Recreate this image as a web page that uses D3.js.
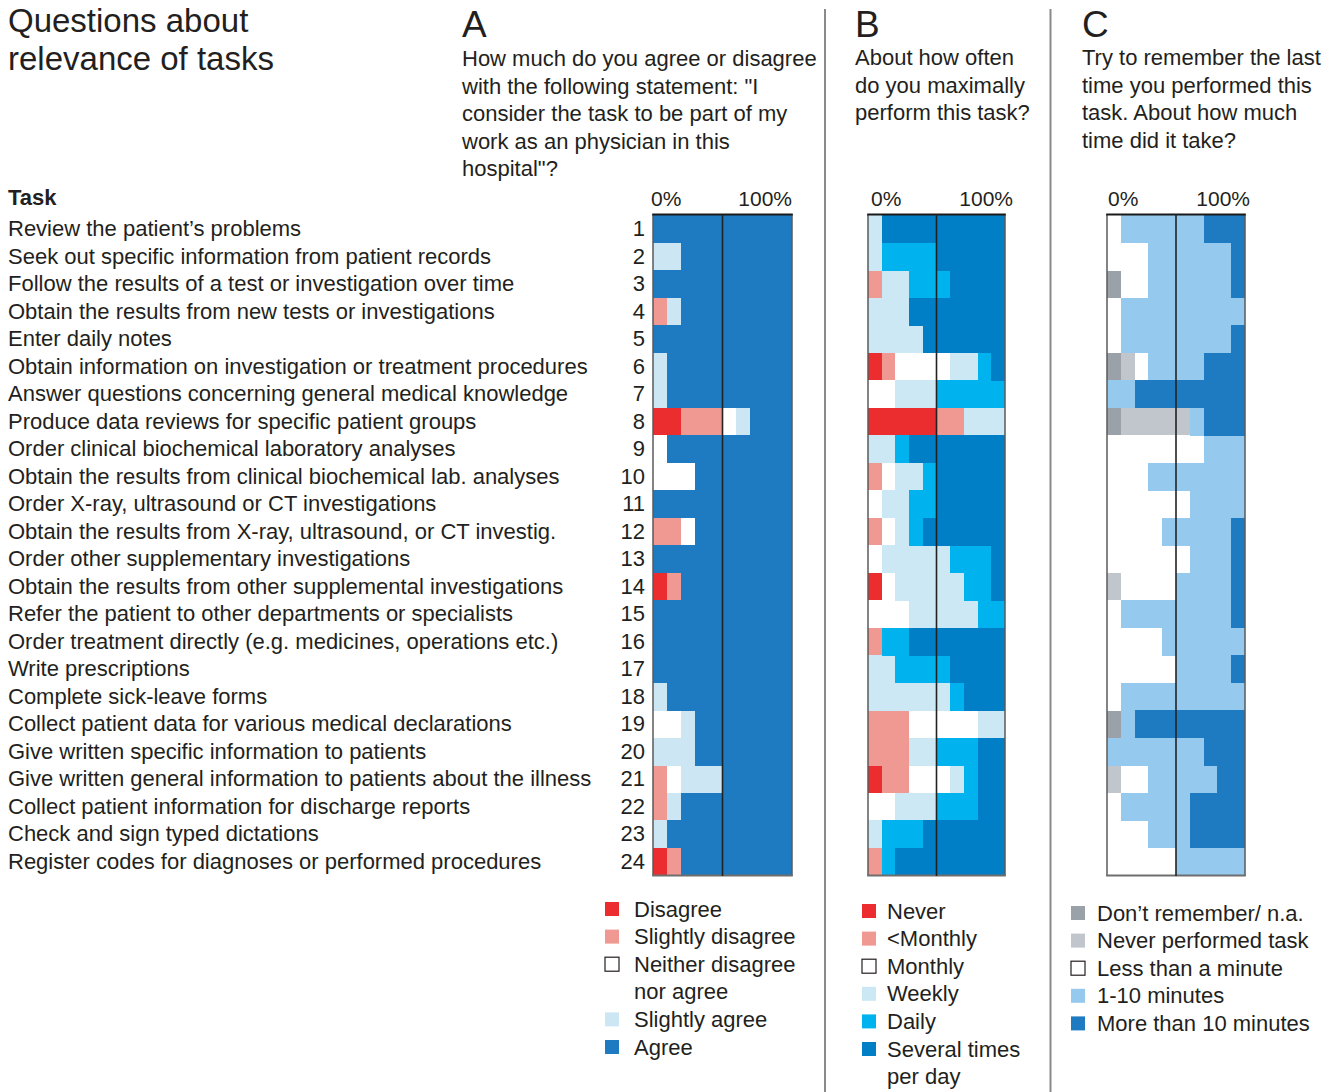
<!DOCTYPE html>
<html><head><meta charset="utf-8">
<script src="https://cdn.jsdelivr.net/npm/d3@7"></script>
<style>
html,body{margin:0;padding:0;background:#fff;}
svg{display:block;font-family:"Liberation Sans",Arial,Helvetica,sans-serif;fill:#231f20;}
</style></head>
<body><svg id="chart" width="1336" height="1092"></svg>
<script>
const tasks = [
 "Review the patient\u2019s problems",
 "Seek out specific information from patient records",
 "Follow the results of a test or investigation over time",
 "Obtain the results from new tests or investigations",
 "Enter daily notes",
 "Obtain information on investigation or treatment procedures",
 "Answer questions concerning general medical knowledge",
 "Produce data reviews for specific patient groups",
 "Order clinical biochemical laboratory analyses",
 "Obtain the results from clinical biochemical lab. analyses",
 "Order X-ray, ultrasound or CT investigations",
 "Obtain the results from X-ray, ultrasound, or CT investig.",
 "Order other supplementary investigations",
 "Obtain the results from other supplemental investigations",
 "Refer the patient to other departments or specialists",
 "Order treatment directly (e.g. medicines, operations etc.)",
 "Write prescriptions",
 "Complete sick-leave forms",
 "Collect patient data for various medical declarations",
 "Give written specific information to patients",
 "Give written general information to patients about the illness",
 "Collect patient information for discharge reports",
 "Check and sign typed dictations",
 "Register codes for diagnoses or performed procedures"
];

// Panel A: agreement (% of respondents)
const aCategories = ["Disagree","Slightly disagree","Neither disagree|nor agree","Slightly agree","Agree"];
const aDisagree       = [0,0,0,0,0,0,0,20,0,0,0,0,0,10,0,0,0,0,0,0,0,0,0,10];
const aSlightDisagree = [0,0,0,10,0,0,0,30,0,0,0,20,0,10,0,0,0,0,0,0,10,10,0,10];
const aNeither        = [0,0,0,0,0,0,0,10,10,30,0,10,0,0,0,0,0,0,20,0,10,0,0,0];
const aSlightAgree    = [0,20,0,10,0,10,10,10,0,0,0,0,0,0,0,0,0,10,10,30,30,10,10,0];
const aAgree          = [100,80,100,80,100,90,90,30,90,70,100,70,100,80,100,100,100,90,70,70,50,80,90,80];

// Panel B: frequency
const bCategories = ["Never","<Monthly","Monthly","Weekly","Daily","Several times|per day"];
const bNever    = [0,0,0,0,0,10,0,50,0,0,0,0,0,10,0,0,0,0,0,0,10,0,0,0];
const bLtMonthly= [0,0,10,0,0,10,0,20,0,10,0,10,0,0,0,10,0,0,30,30,20,0,0,10];
const bMonthly  = [0,0,0,0,0,40,20,0,0,10,10,10,10,10,30,0,0,0,50,0,30,20,0,0];
const bWeekly   = [10,10,20,30,40,20,30,30,20,20,20,10,50,50,50,0,20,60,20,20,10,30,10,0];
const bDaily    = [0,40,30,0,0,10,50,0,10,10,20,10,30,20,20,20,40,10,0,30,10,30,30,10];
const bSeveral  = [90,50,40,70,60,10,0,0,70,50,50,60,10,10,0,70,40,30,0,20,20,20,60,80];

// Panel C: time taken
const cCategories = ["Don\u2019t remember/ n.a.","Never performed task","Less than a minute","1-10 minutes","More than 10 minutes"];
const cDontRemember  = [0,0,10,0,0,10,0,10,0,0,0,0,0,0,0,0,0,0,10,0,0,0,0,0];
const cNeverPerformed= [0,0,0,0,0,10,0,50,0,0,0,0,0,10,0,0,0,0,0,0,10,0,0,0];
const cLessMinute    = [10,30,20,10,10,10,0,0,70,30,60,40,60,40,10,40,50,10,0,0,20,10,30,50];
const cOneToTen      = [60,60,60,90,80,40,20,10,30,70,40,50,30,40,80,60,40,90,10,70,50,50,30,50];
const cMoreTen       = [30,10,10,0,10,30,80,30,0,0,0,10,10,10,10,0,10,0,80,30,20,40,40,0];

const panels = [
  { key:"A", x0:653, x1:792, qx:462, qy:66, qLines:["How much do you agree or disagree","with the following statement: \"I","consider the task to be part of my","work as an physician in this","hospital\"?"],
    cats:aCategories, series:[aDisagree,aSlightDisagree,aNeither,aSlightAgree,aAgree],
    colors:["#ec2d30","#f09892","#ffffff","#cce7f3","#1f7bc1"],
    legX:605, legTX:634, legY0:909, pcL:651, pcR:792 },
  { key:"B", x0:868, x1:1005, qx:855, qy:65, qLines:["About how often","do you maximally","perform this task?"],
    cats:bCategories, series:[bNever,bLtMonthly,bMonthly,bWeekly,bDaily,bSeveral],
    colors:["#ec2d30","#f09892","#ffffff","#cce8f4","#00b3ef","#007ec6"],
    legX:862, legTX:887, legY0:911, pcL:871, pcR:1013 },
  { key:"C", x0:1107, x1:1245, qx:1082, qy:65, qLines:["Try to remember the last","time you performed this","task. About how much","time did it take?"],
    cats:cCategories, series:[cDontRemember,cNeverPerformed,cLessMinute,cOneToTen,cMoreTen],
    colors:["#9aa1a8","#c1c5cc","#ffffff","#95c9ee","#1f7bc1"],
    legX:1071, legTX:1097, legY0:913, pcL:1108, pcR:1250 }
];

const FS = 22;
const svg = d3.select("#chart");
const y = d3.scaleBand().domain(d3.range(tasks.length)).range([215, 875]).paddingInner(0).paddingOuter(0);

// Title
const title = svg.append("text").attr("font-size",33);
title.append("tspan").attr("x",8).attr("y",32).text("Questions about");
title.append("tspan").attr("x",8).attr("y",70).text("relevance of tasks");

// Task header and labels
svg.append("text").attr("x",8).attr("y",205).attr("font-size",FS).attr("font-weight","bold").text("Task");
svg.append("g").selectAll("text").data(tasks).join("text")
  .attr("x",8).attr("y",(d,i)=>y(i)+y.bandwidth()/2+7.5).attr("font-size",FS).text(d=>d);
svg.append("g").selectAll("text").data(tasks).join("text")
  .attr("x",645).attr("text-anchor","end").attr("y",(d,i)=>y(i)+y.bandwidth()/2+7.5).attr("font-size",FS).text((d,i)=>i+1);

// Separators
svg.append("line").attr("x1",825).attr("x2",825).attr("y1",9).attr("y2",1092).attr("stroke","#8a8a8a").attr("stroke-width",2);
svg.append("line").attr("x1",1050.5).attr("x2",1050.5).attr("y1",9).attr("y2",1092).attr("stroke","#8a8a8a").attr("stroke-width",2);

panels.forEach(p=>{
  const g = svg.append("g");
  g.append("text").attr("x",p.qx).attr("y",37).attr("font-size",37).text(p.key);
  g.append("text").attr("font-size",FS).selectAll("tspan").data(p.qLines).join("tspan")
    .attr("x",p.qx).attr("y",(d,i)=>p.qy+i*27.5).text(d=>d);

  const x = d3.scaleLinear().domain([0,100]).range([p.x0,p.x1]);
  g.append("text").attr("x",p.pcL).attr("y",206).attr("font-size",21).text("0%");
  g.append("text").attr("x",p.pcR).attr("y",206).attr("font-size",21).attr("text-anchor","end").text("100%");

  const rows = tasks.map((t,i)=>{ const o={i}; p.series.forEach((s,k)=>o["k"+k]=s[i]); return o; });
  const keys = p.series.map((s,k)=>"k"+k);
  const stacked = d3.stack().keys(keys)(rows);
  g.append("g").selectAll("g").data(stacked).join("g")
    .attr("fill",(d,k)=>p.colors[k])
    .selectAll("rect").data(d=>d).join("rect")
    .attr("x",d=>x(d[0])).attr("width",d=>Math.max(0,x(d[1])-x(d[0])))
    .attr("y",d=>y(d.data.i)).attr("height",y.bandwidth()+0.5)
    .attr("shape-rendering","crispEdges");

  // frame
  g.append("line").attr("x1",x(0)).attr("x2",x(0)).attr("y1",214).attr("y2",876).attr("stroke","#5a5a5a").attr("stroke-width",1.5);
  g.append("line").attr("x1",x(100)).attr("x2",x(100)).attr("y1",214).attr("y2",876).attr("stroke","#5a5a5a").attr("stroke-width",1.5);
  g.append("line").attr("x1",x(0)-0.75).attr("x2",x(100)+0.75).attr("y1",875.5).attr("y2",875.5).attr("stroke","#6e6e6e").attr("stroke-width",2);
  g.append("line").attr("x1",x(0)-0.75).attr("x2",x(100)+0.75).attr("y1",214.5).attr("y2",214.5).attr("stroke","#1a1a1a").attr("stroke-width",2);
  g.append("line").attr("x1",x(50)).attr("x2",x(50)).attr("y1",214).attr("y2",876).attr("stroke","#222").attr("stroke-width",1.6);

  // legend: one entry per text line
  const legItems = [];
  p.cats.forEach((c,k)=>{ c.split("|").forEach((line,j)=>legItems.push({line, k, first:j===0})); });
  legItems.forEach((d,i)=>{ d.cy = p.legY0 + i*27.6; });
  const lg = g.append("g");
  lg.selectAll("rect").data(legItems.filter(d=>d.first)).join("rect")
    .attr("x",p.legX).attr("y",d=>d.cy-7).attr("width",14).attr("height",14)
    .attr("fill",d=>p.colors[d.k])
    .attr("stroke",d=>p.colors[d.k]==="#ffffff"?"#231f20":"none").attr("stroke-width",1.2);
  lg.selectAll("text").data(legItems).join("text")
    .attr("x",p.legTX).attr("y",d=>d.cy+7.5).attr("font-size",FS).text(d=>d.line);
});
</script>
</body></html>
